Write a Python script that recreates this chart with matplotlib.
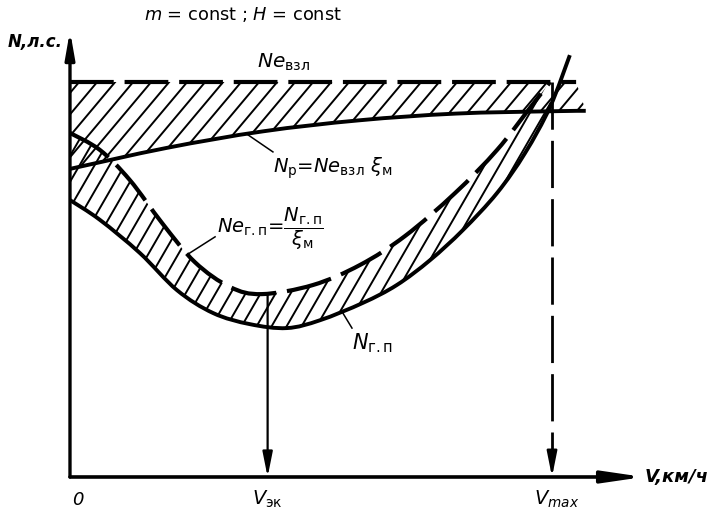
import numpy as np
import matplotlib
matplotlib.use("Agg")
import matplotlib.pyplot as plt
from matplotlib.path import Path
from matplotlib.patches import PathPatch
from matplotlib.collections import LineCollection
from matplotlib.transforms import IdentityTransform

plt.rcParams['font.family'] = ['DejaVu Sans']
plt.rcParams['mathtext.fontset'] = 'dejavusans'

# Power curves, V and N in relative units (V_max = 100, takeoff power = 100)
v_takeoff = [0, 105]
n_takeoff = [100, 100]

# available power N_p = Ne_взл * xi_m
v_avail = [0, 20, 40, 60, 80, 100, 107]
n_avail = [78, 83.3, 87.5, 90.3, 92, 92.6, 92.7]

# power required for level flight N_г.п
v_req = [0, 6.2, 14.5, 22.2, 29.7, 37.3, 45.0, 51.9, 60.8, 67.8, 74.7, 81.5, 88.6, 94.4, 99.6, 103.7]
n_req = [70.1, 65.1, 56.7, 47.3, 41.5, 38.7, 37.7, 39.7, 44.1, 48.6, 54.9, 62.5, 71.9, 82.0, 93.7, 106.8]

# effective engine power required Ne_г.п = N_г.п / xi_m
v_eff = [0, 6.2, 12.4, 19.1, 25.9, 33.2, 39.8, 50.4, 60.2, 69.5, 79.9, 88.6, 95.4, 99.6]
n_eff = [87.1, 82.8, 75.2, 64.3, 54.4, 48.1, 46.3, 48.6, 53.7, 61.0, 71.9, 82.8, 93.4, 100]

v_ek = 41
v_max = 100
v_axis_end = 119
n_axis_end = 113

LW_CURVE = 2.8


def smooth_path(xs, ys):
    """Catmull-Rom spline through the points, as a cubic Bezier path."""
    p = np.column_stack([xs, ys]).astype(float)
    ext = np.vstack([p[0], p, p[-1]])
    verts = [p[0]]
    codes = [Path.MOVETO]
    for i in range(1, len(ext) - 2):
        p0, p1, p2, p3 = ext[i - 1], ext[i], ext[i + 1], ext[i + 2]
        verts += [p1 + (p2 - p0) / 6.0, p2 - (p3 - p1) / 6.0, p2]
        codes += [Path.CURVE4] * 3
    return np.array(verts), codes


def band_path(xa, ya, xb, yb):
    va, ca = smooth_path(xa, ya)
    vb, cb = smooth_path(xb[::-1], yb[::-1])
    cb = [Path.LINETO] + cb[1:]
    verts = np.vstack([va, vb, va[:1]])
    codes = ca + cb + [Path.CLOSEPOLY]
    return Path(verts, codes)


def hatch(ax, path, angle_deg, spacing, lw):
    fig = ax.figure
    W, H = fig.bbox.width, fig.bbox.height
    a = np.radians(angle_deg)
    d = np.array([np.cos(a), np.sin(a)])
    L = 2 * (W + H)
    segs = []
    for x0 in np.arange(-H / np.tan(a) - 50, W + 50, spacing):
        c = np.array([x0, 0.0])
        segs.append([c - d * 10, c + d * L])
    lc = LineCollection(segs, colors='black', linewidths=lw, transform=IdentityTransform())
    lc.set_clip_path(path, ax.transData)
    ax.add_collection(lc)


fig = plt.figure(figsize=(7.16, 5.14), dpi=100)
ax = fig.add_axes([0, 0, 1, 1])
ax.set_xlim(-14.52, 134.02)
ax.set_ylim(-9.37, 120.76)
ax.axis('off')

# hatched zones
upper = band_path(np.array(v_takeoff), np.array(n_takeoff), np.array(v_avail), np.array(n_avail))
v_req_a = np.array(v_req)
n_req_a = np.array(n_req)
m = v_req_a <= v_eff[-1]
lower = band_path(np.array(v_eff), np.array(n_eff), v_req_a[m], n_req_a[m])
hatch(ax, upper, 50, 18, 1.4)
hatch(ax, lower, 60, 15, 1.4)

# curves
for xs, ys, ls, lw in [
    (v_takeoff, n_takeoff, (0, (10.5, 2.6)), 3.0),
    (v_avail, n_avail, '-', LW_CURVE),
    (v_req, n_req, '-', LW_CURVE),
    (v_eff, n_eff, (0, (11.0, 2.6)), 3.0),
]:
    verts, codes = smooth_path(xs, ys)
    ax.add_patch(PathPatch(Path(verts, codes), fill=False, edgecolor='black',
                           linewidth=lw, linestyle=ls, capstyle='butt'))

# axes with arrows
ax.annotate('', xy=(0, n_axis_end), xytext=(0, 0),
            arrowprops=dict(arrowstyle='-|>,head_length=1.6,head_width=0.28',
                            lw=2.4, color='black', shrinkA=0, shrinkB=0, mutation_scale=10))
ax.annotate('', xy=(v_axis_end, 0), xytext=(0, 0),
            arrowprops=dict(arrowstyle='-|>,head_length=2.4,head_width=0.35',
                            lw=2.6, color='black', shrinkA=0, shrinkB=0, mutation_scale=10))

# V_эк arrow from the Ne_г.п curve down to the axis
n_at_ek = np.interp(v_ek, v_eff, n_eff)
ax.annotate('', xy=(v_ek, 0), xytext=(v_ek, n_at_ek),
            arrowprops=dict(arrowstyle='-|>,head_length=1.5,head_width=0.3',
                            lw=1.6, color='black', shrinkA=0, shrinkB=0, mutation_scale=10))

# V_max dashed drop line with arrow head at the axis
ax.plot([v_max, v_max], [n_takeoff[0], 6], color='black', lw=2.0,
        dashes=(17, 4))
ax.annotate('', xy=(v_max, 0), xytext=(v_max, 6),
            arrowprops=dict(arrowstyle='-|>,head_length=1.5,head_width=0.3',
                            lw=1.8, color='black', shrinkA=0, shrinkB=0, mutation_scale=10))

# leader lines
v1 = 36.7
ax.plot([v1, 42.1], [np.interp(v1, v_avail, n_avail), 82.3], color='black', lw=1.1)
v2 = 24.5
ax.plot([v2, 30.1], [np.interp(v2, v_eff, n_eff), 60.8], color='black', lw=1.1)
v3 = 56.4
ax.plot([v3, 58.5], [np.interp(v3, v_req, n_req), 37.7], color='black', lw=1.1)

# labels
ax.text(35.9, 117.2, r'$m$ = const ; $H$ = const', fontsize=12.8, ha='center', va='center')
ax.text(-12.9, 110.1, 'N,л.с.', fontsize=12, fontweight='bold', fontstyle='italic',
        ha='left', va='center')
ax.text(38.8, 103.5, r'$Ne_{\mathrm{взл}}$', fontsize=14.5, ha='left', va='baseline')
ax.text(42.1, 77.0, r'$N_{\mathrm{p}}$=$Ne_{\mathrm{взл}}\ \xi_{\mathrm{м}}$', fontsize=14,
        ha='left', va='baseline')
ax.text(30.5, 61.8, r'$Ne_{\mathrm{г.п}}$=$\dfrac{N_{\mathrm{г.п}}}{\xi_{\mathrm{м}}}$', fontsize=14,
        ha='left', va='baseline')
ax.text(58.5, 32.2, r'$N_{\mathrm{г.п}}$', fontsize=15, ha='left', va='baseline')
ax.text(1.7, -7.1, '0', fontsize=13, fontstyle='italic', ha='center', va='baseline')
ax.text(v_ek, -7.1, r'$V_{\mathrm{эк}}$', fontsize=14, ha='center', va='baseline')
ax.text(v_max + 1, -7.1, r'$V_{max}$', fontsize=14, ha='center', va='baseline')
ax.text(v_axis_end + 0.3, -1.3, 'V,км/ч', fontsize=13, fontweight='bold', fontstyle='italic',
        ha='left', va='baseline')

fig.savefig('out.png', dpi=100)
